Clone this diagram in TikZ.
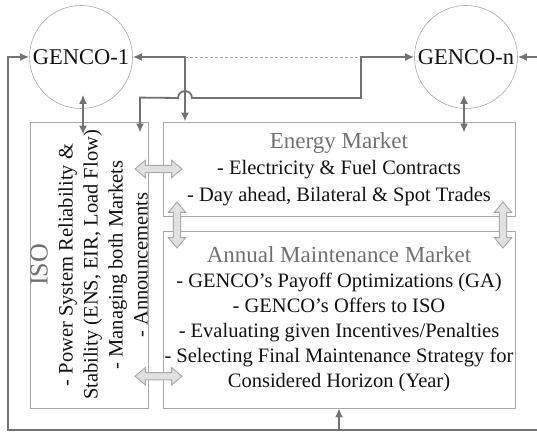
\documentclass[tikz,border=0pt]{standalone}
\usepackage{fontspec}
\setmainfont{Liberation Serif}
\usepackage{xcolor}
\usetikzlibrary{positioning,arrows.meta,shapes.arrows,calc}
\definecolor{FrameGray}{HTML}{A8A8A8}
\definecolor{LinkGray}{HTML}{727272}
\definecolor{TitleGray}{HTML}{707070}
\definecolor{BodyInk}{HTML}{111111}
\definecolor{FatFill}{HTML}{E0E0E0}
\newcommand{\MarketTitle}[1]{{\fontsize{23}{26}\selectfont\color{TitleGray}#1}}

\begin{document}
\begin{tikzpicture}[
  x=1pt,y=1pt,
  text=BodyInk,
  genco/.style={circle,draw=FrameGray,line width=0.6pt,minimum size=103pt,inner sep=0pt,font=\fontsize{22.5}{26}\selectfont},
  market/.style={draw=FrameGray,line width=0.8pt,inner sep=0pt},
  body/.style={align=center,font=\fontsize{20.5}{25}\selectfont},
  link/.style={draw=LinkGray,line width=1.8pt,-{Latex[length=9pt,width=8pt]}},
  dualink/.style={link,{Latex[length=9pt,width=8pt]}-{Latex[length=9pt,width=8pt]}},
  dashline/.style={draw=FrameGray,line width=0.6pt,dash pattern=on 3pt off 2pt},
  fatarrow/.style={double arrow,draw=FrameGray,fill=FatFill,line width=0.9pt,inner xsep=0pt,inner ysep=3.2pt,
    double arrow head extend=5pt,double arrow tip angle=80,minimum height=47pt},
]
  \clip (0,0) rectangle (537,435);

  \node[genco] (genco1) at (81,378) {GENCO-1};
  \node[genco] (gencon) at (466,378) {GENCO-n};

  \node[market,minimum width=118pt,minimum height=286pt] (iso) at (89,170) {};
  \node[market,minimum width=352pt,minimum height=94pt] (energy) at (339,266) {};
  \node[market,minimum width=352pt,minimum height=177pt] (annual) at (339,115.5) {};

  \node[body,rotate=90] (isotext) at (iso.center) {%
    {\fontsize{26}{28}\selectfont\color{TitleGray}ISO}\\
    - Power System Reliability \&\\
    Stability (ENS, EIR, Load Flow)\\
    - Managing both Markets\\
    - Announcements};
  \node[body,font=\fontsize{20.5}{26.5}\selectfont] (energytext) at (energy.center) {%
    \MarketTitle{Energy Market}\\
    - Electricity \& Fuel Contracts\\
    - Day ahead, Bilateral \& Spot Trades};
  \node[body] (annualtext) at (annual.center) {%
    \MarketTitle{Annual Maintenance Market}\\
    - GENCO’s Payoff Optimizations (GA)\\
    - GENCO’s Offers to ISO\\
    - Evaluating given Incentives/Penalties\\
    - Selecting Final Maintenance Strategy for\\
    Considered Horizon (Year)};

  \node[fatarrow] (isoenergy) at ($(iso.east |- energy.west)!0.5!(energy.west)+(3pt,0)$) {};
  \node[fatarrow] (isoannual) at ($(iso.east)!0.5!(annual.west)+(3pt,-84pt)$) {};
  \node[fatarrow,rotate=90,minimum height=46pt] (leftlink) at ($(energy.south)!0.5!(annual.north)+(-162pt,-1.5pt)$) {};
  \node[fatarrow,rotate=90,minimum height=46pt] (rightlink) at ($(energy.south)!0.5!(annual.north)+(164pt,-1.5pt)$) {};

  \coordinate (fork) at ([xshift=-154pt]energy.north |- genco1.east);
  \coordinate (riser) at (361,378);
  \coordinate (loop) at (545,5);

  \draw[dualink] ([shift={(2pt,14pt)}]genco1.south) -- ([shift={(-6pt,-13pt)}]iso.north);
  \draw[dualink] (genco1.east) -| ([xshift=-154pt]energy.north);
  \draw[dashline] (fork) -- (riser);
  \draw[dualink] ([shift={(51pt,-11pt)}]iso.north) -- ++(0,35) -- (178,337)
    arc[start angle=180,end angle=0,radius=7] -- (riser |- 0,337) -- (riser) -- (gencon.west);
  \draw[dualink] ([shift={(-2pt,14pt)}]gencon.south) -- ([shift={(125pt,-11pt)}]energy.north);

  \draw[link] (loop) -- (8,5) |- (genco1.west);
  \draw[link] (loop) |- (gencon.east);
  \draw[link] (annual.south |- 0,5) -- (annual.south);
\end{tikzpicture}
\end{document}
